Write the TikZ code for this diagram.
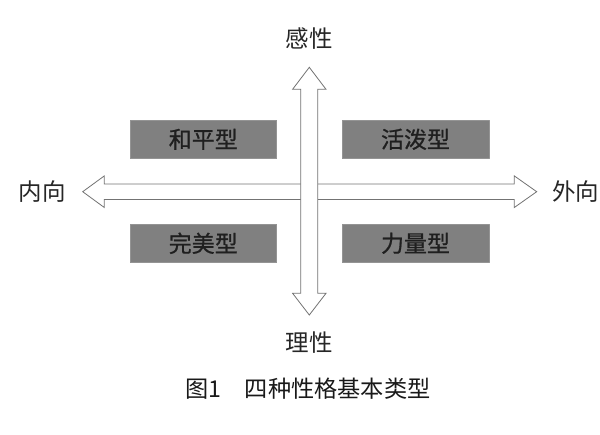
\documentclass[tikz,border=0pt]{standalone}
\usepackage{fontspec}
\setmainfont{Noto Sans CJK SC}
\newfontfamily\typefont[FakeBold=0.8]{Noto Sans CJK SC}
\tikzset{
	typebox/.style={fill=black!50, draw=black!42, line width=0.6pt, minimum width=146.7pt, minimum height=38.5pt, inner sep=0pt, text=black!88, font=\typefont\fontsize{23}{23}\selectfont},
	axislabel/.style={inner sep=0pt, text=black!85, font=\fontsize{23.5}{23.5}\selectfont},
	axisarrow/.style={draw=black!55, fill=white, line width=0.8pt, line join=miter}
}
\begin{document}
\begin{tikzpicture}[
				x={(1pt,0pt)},
				y={(0pt,-1pt)},
				line join=round
			]
			\useasboundingbox (0,0) rectangle (600,434);

			% Horizontal double arrow
			\draw[axisarrow]
			(82.7,191.7) -- (104.3,175.9) -- (104.3,184) -- (514.3,184) -- (514.3,175.9)
			-- (536.7,191.7) -- (514.3,207.5) -- (514.3,199.4) -- (104.3,199.4) -- (104.3,207.5) -- cycle;

			% Vertical double arrow (on top)
			\draw[axisarrow]
			(309.3,67.3) -- (326,89.3) -- (317.8,89.3) -- (317.8,293.3) -- (326,293.3)
			-- (309.3,315) -- (292.6,293.3) -- (300.8,293.3) -- (300.8,89.3) -- (292.6,89.3) -- cycle;

			% Axis labels
			\node[axislabel] (gan) at (309.3,39) {感性};
			\node[axislabel] (li) at (309.3,343) {理性};
			\node[axislabel] (nei) at (42.5,192) {内向};
			\node[axislabel] (wai) at (575.5,192) {外向};

			% Four types
			\node[typebox] (heping) at (203.3,139.3) {和平型};
			\node[typebox] (huopo) at (415.5,139.3) {活泼型};
			\node[typebox] (wanmei) at (203.3,243.3) {完美型};
			\node[typebox] (liliang) at (415.5,243.3) {力量型};

			% Caption
			\node[axislabel, text=black!90, font=\fontsize{23.2}{23.2}\selectfont] (caption) at (308,389) {图1\quad 四种性格基本类型};

		\end{tikzpicture}
\end{document}
